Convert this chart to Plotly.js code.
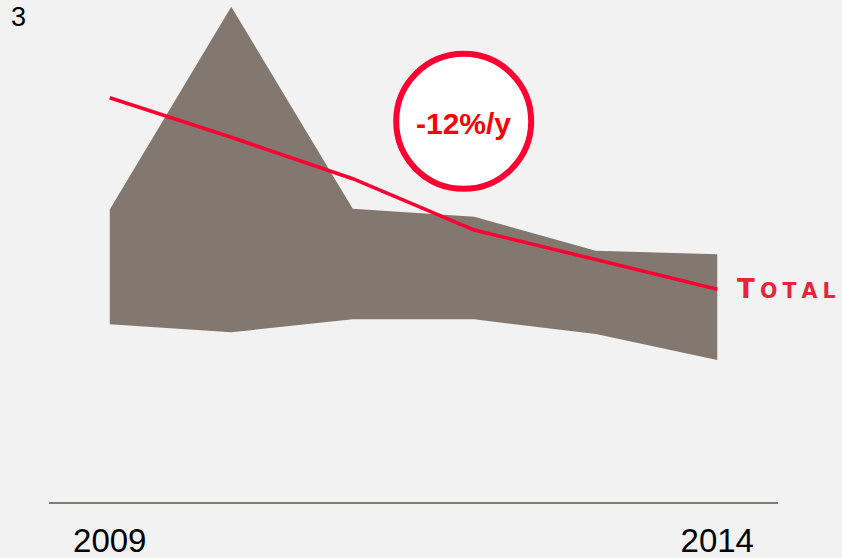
<!DOCTYPE html>
<html>
<head>
<meta charset="utf-8">
<script src="https://cdn.plot.ly/plotly-3.0.1.min.js"></script>
<style>
  html, body { margin: 0; padding: 0; background: #f2f2f2; }
  #chart { width: 842px; height: 558px; }
</style>
</head>
<body>
<div id="chart"></div>
<script>
// Years on the horizontal axis
const years = [2009, 2010, 2011, 2012, 2013, 2014];
// Peer range: lower and upper envelope of the grey band
const peerLow  = [1.099, 1.050, 1.130, 1.130, 1.039, 0.878];
const peerHigh = [1.810, 3.064, 1.814, 1.765, 1.554, 1.532];
// Total's own series (red line)
const total = [2.501, 2.256, 2.000, 1.682, 1.500, 1.316];
// Axis tick labels
const xTickVals = [2009, 2014];
const xTickText = ['2009', '2014'];
const yTickVals = [3];
const yTickText = ['3'];

// Average yearly change of the red series, shown in the badge
const nYears = years[years.length - 1] - years[0];
const yearlyRate = Math.pow(total[total.length - 1] / total[0], 1 / nYears) - 1;
const rateLabel = (yearlyRate < 0 ? '-' : '+') + Math.round(Math.abs(yearlyRate) * 100) + '%/y';

const grey = '#82786f';
const red = '#ff0033';
const gap = '\u2005';

const traces = [
  {
    x: years, y: peerLow, type: 'scatter', mode: 'lines',
    line: { width: 0, color: grey }, hoverinfo: 'skip', showlegend: false
  },
  {
    x: years, y: peerHigh, type: 'scatter', mode: 'lines',
    fill: 'tonexty', fillcolor: grey,
    line: { width: 0, color: grey }, hoverinfo: 'skip', showlegend: false
  },
  {
    x: years, y: total, type: 'scatter', mode: 'lines',
    line: { width: 3.6, color: red }, showlegend: false
  }
];

const layout = {
  width: 842,
  height: 558,
  margin: { l: 49, r: 64, t: 2, b: 56, pad: 0 },
  paper_bgcolor: '#f2f2f2',
  plot_bgcolor: '#f2f2f2',
  font: { family: 'Liberation Sans, Arial, sans-serif', color: '#000000' },
  xaxis: {
    range: [2008.5, 2014.5],
    tickvals: xTickVals,
    ticktext: xTickText,
    ticks: '',
    showgrid: false,
    zeroline: false,
    showline: true,
    linecolor: '#857a70',
    linewidth: 2,
    ticklabelstandoff: 8,
    tickfont: { size: 33, color: '#000000' }
  },
  yaxis: {
    range: [0, 3.093],
    tickvals: yTickVals,
    ticktext: yTickText,
    ticks: '',
    showgrid: false,
    zeroline: false,
    showline: false,
    ticklabelstandoff: 22,
    tickfont: { size: 27, color: '#000000' }
  },
  shapes: [
    {
      type: 'circle',
      layer: 'above',
      xref: 'x', yref: 'y',
      xsizemode: 'pixel', ysizemode: 'pixel',
      xanchor: 2011.913, yanchor: 2.355,
      x0: -67.5, x1: 67.5, y0: -67.5, y1: 67.5,
      line: { color: red, width: 6 },
      fillcolor: '#ffffff'
    }
  ],
  annotations: [
    {
      xref: 'x', yref: 'y',
      x: 2011.913, y: 2.355,
      xanchor: 'center', yanchor: 'middle',
      yshift: -2,
      showarrow: false,
      text: '<b>' + rateLabel + '</b>',
      font: { family: 'Liberation Sans, Arial, sans-serif', size: 30, color: '#ff0000' }
    },
    {
      xref: 'paper', yref: 'y',
      x: (735 - 49) / 729, y: total[total.length - 1],
      xanchor: 'left', yanchor: 'middle',
      showarrow: false,
      text: '<b>T<span style="font-size:20.5px">' + gap + 'O' + gap + 'T' + gap + 'A' + gap + 'L</span></b>',
      font: { family: 'DejaVu Sans, sans-serif', size: 26, color: '#e8243c' }
    }
  ]
};

Plotly.newPlot('chart', traces, layout, { displayModeBar: false, staticPlot: true });
</script>
</body>
</html>
